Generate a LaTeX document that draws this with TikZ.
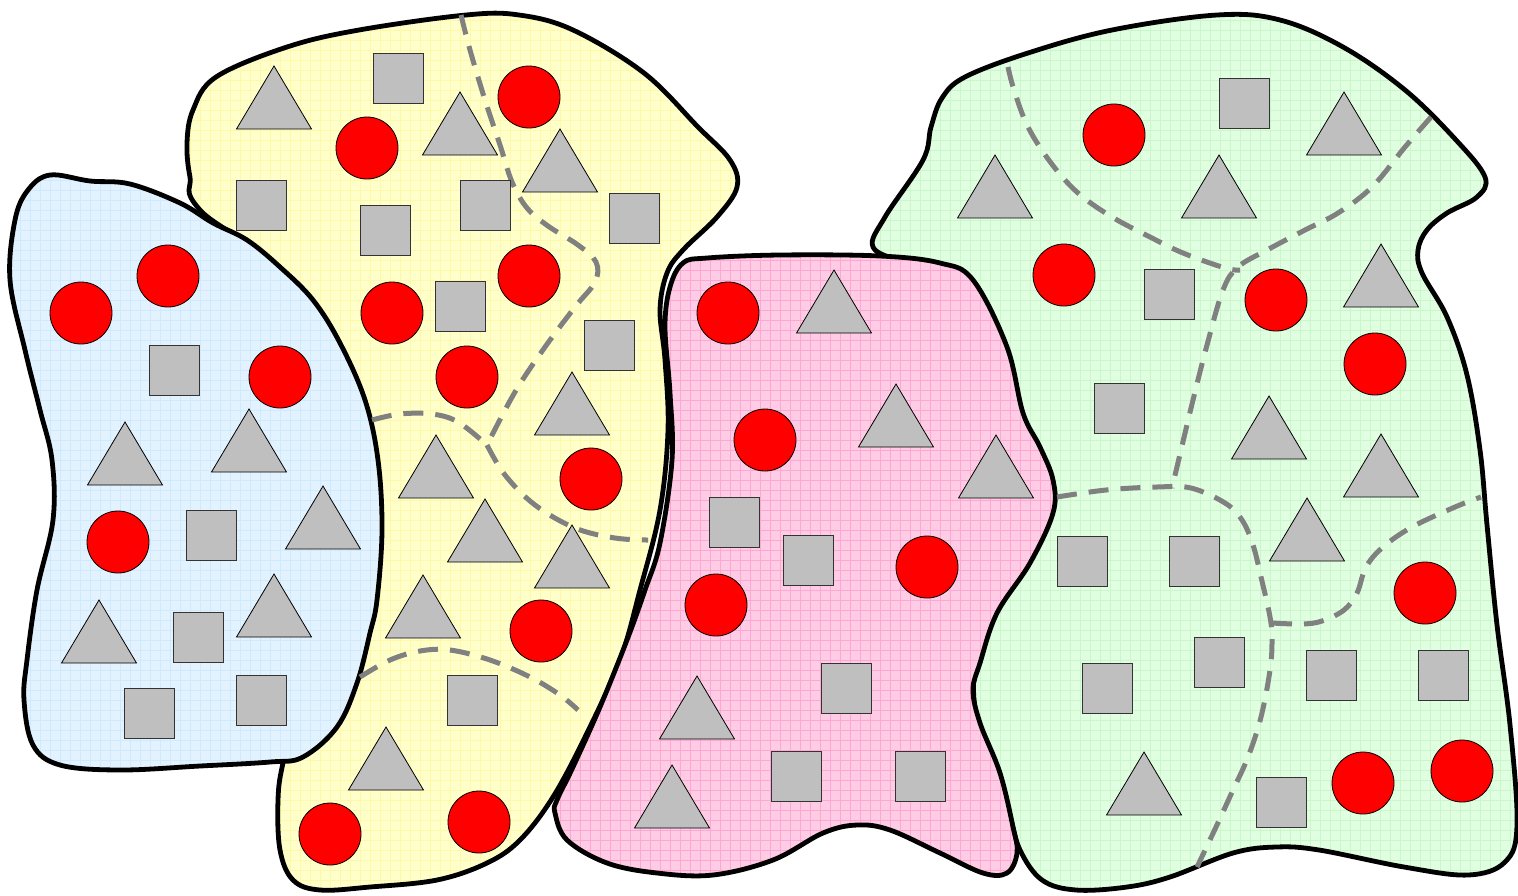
\documentclass[tikz,border=0pt]{standalone}
\usepackage{tikz}
\definecolor{bluef}{HTML}{E2F3FF}
\definecolor{blueg}{HTML}{CFEAFC}
\definecolor{yelf}{HTML}{FFFFCC}
\definecolor{yelg}{HTML}{FFF8A6}
\definecolor{pinkf}{HTML}{FFCCE5}
\definecolor{pinkg}{HTML}{FFA6D2}
\definecolor{greenf}{HTML}{E0FFE0}
\definecolor{greeng}{HTML}{CBF6CB}
\definecolor{shapegray}{HTML}{BFBFBF}
\definecolor{dashgray}{HTML}{808080}
\tikzset{
  border/.style={line width=2.4pt,line join=round},
  sqs/.style={fill=shapegray,draw=black!80,line width=0.5pt},
  trs/.style={fill=shapegray,draw=black,line width=0.4pt,line join=miter},
  rcs/.style={fill=red,draw=black,line width=0.4pt},
  dsh/.style={draw=dashgray,line width=2.5pt,dash pattern=on 10pt off 6pt},
}
\newcommand\myblob[3]{%
  \begin{scope}
    \clip plot[smooth cycle,tension=0.6] coordinates {#3};
    \fill[#1] (0,0) rectangle (1518,895);
    \draw[#2,line width=0.3pt] (0pt,0pt) grid[step=5pt] (759pt,-447.5pt);
  \end{scope}
  \draw[border] plot[smooth cycle,tension=0.6] coordinates {#3};}
\newcommand\redc[2]{\path[rcs] (#1,#2) circle[radius=15.5pt];}
\newcommand\graysq[2]{\path[sqs] (#1,#2) ++(-25,-25) rectangle ++(50,50);}
\newcommand\graytri[2]{\path[trs] (#1,#2) -- ++(37.5,63) -- ++(-75,0) -- cycle;}
\begin{document}
\begin{tikzpicture}[x=0.5pt,y=-0.5pt]
\useasboundingbox (0,0) rectangle (1518,895);
% yellow
\myblob{yelf}{yelg}{(187,143) (193,110) (216,77) (287,47) (359,30) (466,15) (519,15) (573,30) (644,73) (698,127) (730,160) (737,187) (717,217) (683,250) (667,273) (660,310) (665,360) (668,430) (660,510) (640,590) (620,660) (587,733) (553,797) (520,840) (487,863) (437,880) (370,887) (320,890) (293,880) (280,850) (278,800) (283,763) (300,700) (330,500) (300,300) (200,210) (190,177)}
% blue
\myblob{bluef}{blueg}{(50,175) (90,181) (130,184) (180,203) (213,223) (247,240) (280,267) (313,300) (340,343) (365,400) (378,460) (382,530) (377,600) (370,633) (357,683) (337,727) (303,757) (270,762) (200,766) (120,770) (60,765) (33,745) (24,700) (27,660) (37,590) (53,520) (52,460) (40,410) (25,350) (10,280) (15,220) (28,190)}
% green
\myblob{greenf}{greeng}{(873,247) (885,217) (923,160) (931,127) (942,98) (965,77) (1028,53) (1112,30) (1217,15) (1280,20) (1343,47) (1405,90) (1456,140) (1485,177) (1477,197) (1447,213) (1427,230) (1418,250) (1422,273) (1447,317) (1467,375) (1480,450) (1487,525) (1497,625) (1510,725) (1517,825) (1505,862) (1468,875) (1404,867) (1319,850) (1276,847) (1233,853) (1170,877) (1127,887) (1076,890) (1042,880) (1020,850) (1008,810) (986,750) (974,700) (978,650) (999,603) (1029,550) (1048,500) (1040,458) (1014,400) (993,335) (958,283) (905,263)}
% pink
\myblob{pinkf}{pinkg}{(683,263) (707,258) (780,255) (880,256) (940,263) (973,280) (1007,347) (1023,413) (1040,447) (1053,480) (1053,513) (1030,563) (997,613) (980,663) (973,690) (980,723) (1000,773) (1013,827) (1017,853) (1007,873) (983,873) (940,853) (890,830) (857,825) (823,833) (773,860) (713,875) (657,873) (607,863) (567,840) (555,813) (557,800) (573,767) (600,707) (627,640) (645,590) (660,543) (672,460) (670,393) (665,327) (670,287)}
% dashed separators
\draw[dsh] plot[smooth,tension=0.6] coordinates {(461,15) (470,50) (485,100) (500,145) (512,182) (527,208) (548,226) (578,245) (596,262) (595,282) (575,307) (545,347) (515,392) (487,445)};
\draw[dsh] plot[smooth,tension=0.6] coordinates {(372,420) (400,414) (432,414) (458,422) (487,445)};
\draw[dsh] plot[smooth,tension=0.6] coordinates {(487,445) (505,475) (535,505) (575,528) (615,538) (648,540)};
\draw[dsh] plot[smooth,tension=0.6] coordinates {(360,677) (390,660) (420,651) (450,650) (490,660) (530,677) (560,695) (578,710)};
\draw[dsh] plot[smooth,tension=0.6] coordinates {(1008,67) (1014,90) (1028,127) (1051,163) (1078,193) (1112,217) (1150,237) (1183,253) (1225,268) (1240,270)};
\draw[dsh] plot[smooth,tension=0.6] coordinates {(1431,117) (1405,147) (1372,187) (1338,213) (1305,230) (1267,250) (1238,267) (1223,290) (1207,345) (1193,400) (1181,450) (1172,488)};
\draw[dsh] plot[smooth,tension=0.6] coordinates {(1057,497) (1106,490) (1157,487) (1191,488) (1225,503) (1242,520) (1253,545) (1261,577) (1270,617) (1272,640) (1270,670) (1261,717) (1248,757) (1233,790) (1216,827) (1197,867)};
\draw[dsh] plot[smooth,tension=0.6] coordinates {(1272,623) (1302,624) (1322,621) (1344,610) (1357,593) (1366,567) (1383,547) (1412,527) (1455,507) (1481,497)};
% blue shapes
\redc{81}{313}\redc{168}{276}\redc{280}{377}\redc{118}{542}
\graysq{174}{370}\graysq{211}{535}\graysq{198}{637}\graysq{149}{713}\graysq{261}{700}
\graytri{125}{422}\graytri{249}{409}\graytri{323}{486}\graytri{99}{600}\graytri{274}{574}
% yellow shapes
\graytri{274}{66}\graytri{460}{92}\graytri{560}{129}\graytri{572}{372}\graytri{436}{435}\graytri{485}{499}\graytri{572}{525}\graytri{423}{575}\graytri{386}{727}
\redc{529}{97}\redc{367}{148}\redc{529}{276}\redc{392}{313}\redc{467}{377}\redc{591}{479}\redc{541}{631}\redc{330}{834}\redc{479}{822}
\graysq{398}{78}\graysq{261}{205}\graysq{385}{230}\graysq{485}{205}\graysq{634}{218}\graysq{460}{306}\graysq{609}{345}\graysq{472}{700}
% pink shapes
\redc{728}{313}\redc{765}{440}\redc{927}{567}\redc{716}{605}
\graytri{834}{270}\graytri{896}{384}\graytri{996}{435}\graytri{697}{676}\graytri{672}{765}
\graysq{734}{522}\graysq{808}{560}\graysq{846}{688}\graysq{796}{776}\graysq{920}{776}
% green shapes
\redc{1114}{135}\redc{1064}{275}\redc{1276}{300}\redc{1375}{364}\redc{1425}{593}\redc{1363}{783}\redc{1462}{771}
\graysq{1244}{103}\graysq{1169}{294}\graysq{1119}{408}\graysq{1082}{561}\graysq{1194}{561}\graysq{1219}{662}\graysq{1107}{688}\graysq{1331}{675}\graysq{1443}{675}\graysq{1281}{802}
\graytri{1344}{92}\graytri{995}{155}\graytri{1219}{155}\graytri{1381}{244}\graytri{1269}{396}\graytri{1381}{434}\graytri{1307}{498}\graytri{1144}{752}
\end{tikzpicture}
\end{document}
